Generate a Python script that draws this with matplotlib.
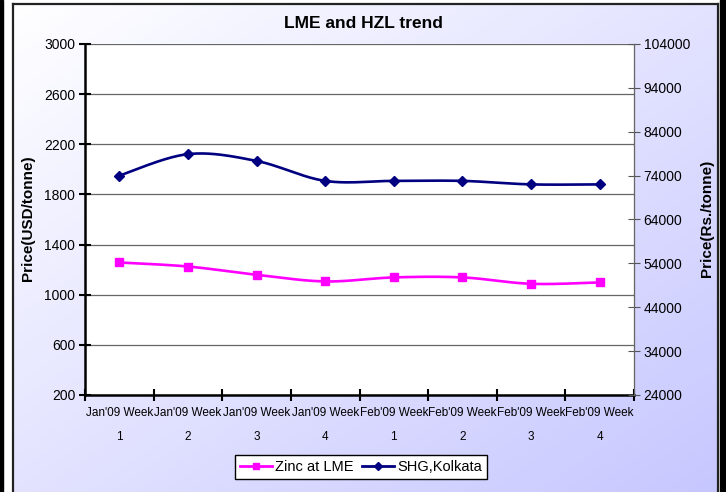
#!/usr/bin/env python3
"""LME vs HZL zinc price trend, Jan-Feb '09 (weekly)."""

import matplotlib

matplotlib.use("Agg")
import matplotlib.pyplot as plt
import numpy as np
from matplotlib.lines import Line2D
from matplotlib.patches import Rectangle

plt.rcParams["font.family"] = ["Liberation Sans", "DejaVu Sans"]

W, H = 726, 492

weeks = ["Jan'09 Week\n1", "Jan'09 Week\n2", "Jan'09 Week\n3", "Jan'09 Week\n4",
         "Feb'09 Week\n1", "Feb'09 Week\n2", "Feb'09 Week\n3", "Feb'09 Week\n4"]
zinc_lme = [1257, 1225, 1159, 1106, 1138, 1138, 1087, 1098]        # USD/tonne
shg_kolkata = [74000, 78900, 77350, 72800, 72800, 72800, 72000, 72000]  # Rs./tonne

PINK = "#FF00FF"
NAVY = "#000080"


def smooth(x, y, n=24):
    """Catmull-Rom curve through the points (like Excel's smoothed line)."""
    p = np.column_stack([x, y]).astype(float)
    p = np.vstack([p[0], p, p[-1]])
    t = np.linspace(0, 1, n)[:, None]
    out = []
    for i in range(1, len(p) - 2):
        p0, p1, p2, p3 = p[i - 1], p[i], p[i + 1], p[i + 2]
        seg = 0.5 * (2 * p1 + (-p0 + p2) * t + (2 * p0 - 5 * p1 + 4 * p2 - p3) * t ** 2
                     + (-p0 + 3 * p1 - 3 * p2 + p3) * t ** 3)
        out.append(seg if i == 1 else seg[1:])
    out = np.vstack(out)
    return out[:, 0], out[:, 1]


fig = plt.figure(figsize=(W / 100, H / 100), dpi=100)
fig.patch.set_facecolor("white")

# outer frame + gradient chart area
bg = fig.add_axes([13 / W, 0, (718 - 13) / W, (H - 4) / H], zorder=0)
gx, gy = np.meshgrid(np.linspace(0, 1, 200), np.linspace(0, 1, 200))
g = (gx + gy) / 2
c0 = np.array([1.0, 1.0, 1.0])
c1 = np.array([0.78, 0.78, 1.0])
img = c0[None, None, :] * (1 - g[..., None]) + c1[None, None, :] * g[..., None]
bg.imshow(img, aspect="auto", extent=[0, 1, 0, 1], origin="upper")
bg.set_xlim(0, 1)
bg.set_ylim(0, 1)
bg.set_xticks([])
bg.set_yticks([])
for s in bg.spines.values():
    s.set_color("#222222")
    s.set_linewidth(1.6)
bg.spines["bottom"].set_visible(False)
fig.patches.append(Rectangle((0, 0), 3 / W, 1, transform=fig.transFigure, color="black"))
fig.patches.append(Rectangle((720 / W, 0), 6 / W, 1, transform=fig.transFigure, color="black"))

ax = fig.add_axes([85 / W, (H - 395) / H, 549 / W, 351 / H], zorder=2)
ax.set_facecolor("white")
ax2 = ax.twinx()

x = np.arange(len(weeks))

sx, sy = smooth(x, zinc_lme)
ax.plot(sx, sy, color=PINK, lw=1.9, zorder=3)
ax.plot(x, zinc_lme, ls="none", marker="s", ms=6, color=PINK, zorder=4)

sx, sy = smooth(x, shg_kolkata)
ax2.plot(sx, sy, color=NAVY, lw=1.9, zorder=3)
ax2.plot(x, shg_kolkata, ls="none", marker="D", ms=5, color=NAVY, zorder=4)

ax.set_xlim(-0.5, len(weeks) - 0.5)
ax.set_ylim(200, 3000)
ax.set_yticks(np.arange(200, 3001, 400))
ax2.set_ylim(24000, 104000)
ax2.set_yticks(np.arange(24000, 104001, 10000))

ax.set_xticks(np.arange(-0.5, len(weeks), 1))
ax.set_xticklabels([])
ax.set_xticks(x, minor=True)
ax.set_xticklabels(weeks, minor=True, fontsize=8.5)
ax.tick_params(axis="x", which="major", direction="inout", length=8, width=1.5)
ax.tick_params(axis="x", which="minor", length=0, pad=9)
for lab in ax.get_xticklabels(minor=True):
    lab.set_linespacing(2.3)

ax.tick_params(axis="y", direction="inout", length=8, width=1.5, labelsize=10, pad=3)
ax2.tick_params(axis="y", direction="inout", length=8, width=0.8, color="#555555",
                labelsize=10, pad=3)

ax.grid(axis="y", color="#666666", lw=0.9)
ax.set_axisbelow(True)
for side in ("left", "bottom"):
    ax.spines[side].set_linewidth(1.8)
ax.spines["top"].set_visible(False)
ax2.spines["top"].set_visible(False)
ax2.spines["right"].set_color("#666666")
ax2.spines["left"].set_visible(False)
ax2.spines["bottom"].set_visible(False)

fig.text(363 / W, 1 - 24 / H, "LME and HZL trend", ha="center", va="center",
         fontsize=12.5, fontweight="bold")
fig.text(28 / W, 1 - 218 / H, "Price(USD/tonne)", rotation=90, ha="center", va="center",
         fontsize=11, fontweight="bold")
fig.text(707 / W, 1 - 218 / H, "Price(Rs./tonne)", rotation=90, ha="center", va="center",
         fontsize=11, fontweight="bold")

handles = [
    Line2D([], [], color=PINK, lw=2, marker="s", ms=5),
    Line2D([], [], color=NAVY, lw=2, marker="D", ms=4),
]
leg = fig.legend(handles, ["Zinc at LME", "SHG,Kolkata"], loc="center",
                 bbox_to_anchor=(361 / W, 1 - 467 / H), ncol=2, fontsize=10.5,
                 frameon=True, fancybox=False, handlelength=2.2, handletextpad=0.2,
                 columnspacing=0.6, borderpad=0.35)
leg.get_frame().set_edgecolor("black")
leg.get_frame().set_linewidth(1.0)
leg.get_frame().set_alpha(1)
leg.set_zorder(5)

fig.savefig("out.png", dpi=100)
